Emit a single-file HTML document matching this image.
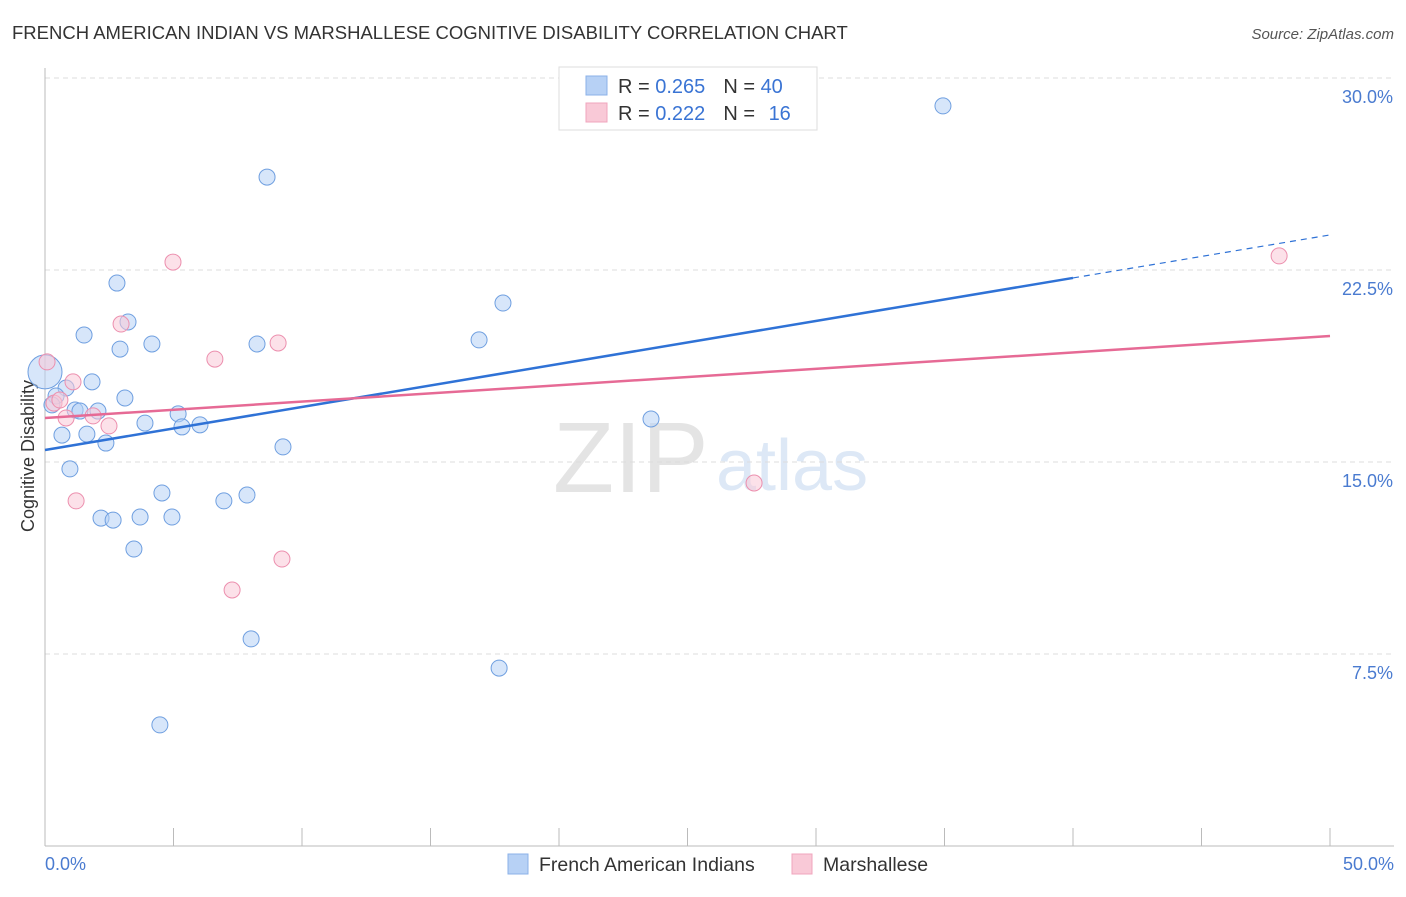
<!DOCTYPE html>
<html><head><meta charset="utf-8"><style>
body{margin:0;background:#fff;font-family:"Liberation Sans",sans-serif;}
svg text{font-family:"Liberation Sans",sans-serif;}
</style></head><body>
<svg width="1406" height="892" id="chart">
<text x="12" y="39" font-size="18.5" fill="#333">FRENCH AMERICAN INDIAN VS MARSHALLESE COGNITIVE DISABILITY CORRELATION CHART</text>
<text x="1394" y="39" font-size="15" fill="#555" font-style="italic" text-anchor="end">Source: ZipAtlas.com</text>
<text x="553" y="492" font-size="100" fill="#e4e4e4" font-family="Liberation Serif">ZIP</text>
<text x="716" y="490" font-size="72" fill="#dde8f6">atlas</text>
<text transform="translate(34,456) rotate(-90)" font-size="18" fill="#333" text-anchor="middle">Cognitive Disability</text>
<g id="grid"></g><g id="axes"></g><g id="marks"></g>
<g>
<rect x="559" y="67" width="258" height="63" fill="#fff" stroke="#ddd"/>
<rect x="586" y="76" width="21" height="19" fill="#b7d1f5" stroke="#8bb1e8"/>
<rect x="586" y="103" width="21" height="19" fill="#f9c9d7" stroke="#f0a5bd"/>
<text x="618" y="93" font-size="20" fill="#333">R = <tspan fill="#3a74d4">0.265</tspan><tspan dx="18">N = </tspan><tspan fill="#3a74d4">40</tspan></text>
<text x="618" y="120" font-size="20" fill="#333">R = <tspan fill="#3a74d4">0.222</tspan><tspan dx="18">N = </tspan><tspan fill="#3a74d4" dx="8">16</tspan></text>
</g>
<g>
<rect x="508" y="854" width="20" height="20" fill="#b7d1f5" stroke="#8bb1e8"/>
<text x="539" y="871" font-size="19.5" fill="#333">French American Indians</text>
<rect x="792" y="854" width="20" height="20" fill="#f9c9d7" stroke="#f0a5bd"/>
<text x="823" y="871" font-size="19.5" fill="#333">Marshallese</text>
</g>
</svg>
<script>
const yTicks=[7.5,15,22.5,30];
const yTickLabels=["7.5%","15.0%","22.5%","30.0%"];
const xEndLabels=["0.0%","50.0%"];
const blueX=[34.94,8.64,2.80,3.23,1.52,4.16,2.92,8.25,17.82,16.89,1.83,0.82,3.11,0.43,0.27,1.17,2.06,1.36,3.89,5.18,5.33,6.03,0.66,1.63,2.37,9.26,23.58,0.97,4.55,7.86,6.96,2.18,2.65,3.70,4.94,3.46,8.02,17.67,4.47,0.0];
const blueY=[28.91,26.13,21.99,20.47,19.96,19.61,19.41,19.61,21.21,19.77,18.13,17.89,17.50,17.58,17.23,17.03,16.99,16.99,16.52,16.88,16.37,16.45,16.05,16.09,15.74,15.59,16.68,14.73,13.79,13.71,13.48,12.81,12.73,12.85,12.85,11.60,8.09,6.95,4.73,18.52];
const pinkX=[48.02,4.98,2.96,9.07,6.61,1.09,0.35,0.82,1.87,2.49,1.21,27.59,9.22,7.28,0.08,0.58];
const pinkY=[23.05,22.81,20.39,19.65,19.02,18.13,17.30,16.72,16.80,16.41,13.48,14.18,11.21,10.00,18.91,17.42];
const blueLine=[15.47,23.87];
const pinkLine=[16.72,19.92];
const X=v=>45+v*25.7, Y=v=>846-v*25.6;
const NS="http://www.w3.org/2000/svg";
function mk(tag,attrs,parent){const e=document.createElementNS(NS,tag);for(const k in attrs)e.setAttribute(k,attrs[k]);document.getElementById(parent).appendChild(e);return e;}
yTicks.forEach((t,i)=>{
 const l=mk('line',{x1:45,x2:1394,y1:Y(t),y2:Y(t),stroke:'#ddd','stroke-dasharray':'5,4'},'grid');
 
 
 const tx=mk('text',{x:1393,y:Y(t)+25,'font-size':18,fill:'#4a7bd0','text-anchor':'end'},'grid');
 tx.textContent=yTickLabels[i];
 
 
});
const ax=mk('line',{x1:45,x2:1394,y1:846,y2:846,stroke:'#bbb'},'axes');


const ay=mk('line',{x1:45,x2:45,y1:68,y2:846,stroke:'#bbb'},'axes');


for(let i=0;i<=10;i++){const t=mk('line',{x1:X(i*5),x2:X(i*5),y1:828,y2:846,stroke:'#bbb'},'axes');
 
 }
[[0,'start',45],[50,'end',1394]].forEach((d,i)=>{const t=mk('text',{x:d[2],y:870,'font-size':18,fill:'#4a7bd0','text-anchor':d[1]},'axes');t.textContent=xEndLabels[i];
 
 });
function pts(xs,ys,fill,stroke,name){xs.forEach((x,i)=>{const big=(name==='blue-point'&&x===0);const c=mk('circle',{cx:X(x),cy:Y(ys[i]),r:big?17:8,fill:fill,'fill-opacity':0.55,stroke:stroke,'stroke-width':1},'marks');
 
 });}
pts(blueX,blueY,'#b7d1f5','#6f9fe0','blue-point');
pts(pinkX,pinkY,'#f9c9d7','#ec8fae','pink-point');
const b1=mk('line',{x1:X(0),y1:Y(blueLine[0]),x2:X(40),y2:Y(blueLine[0]+(blueLine[1]-blueLine[0])*0.8),stroke:'#2f72d6','stroke-width':2.5},'marks');


const b2=mk('line',{x1:X(40),y1:Y(blueLine[0]+(blueLine[1]-blueLine[0])*0.8),x2:X(50),y2:Y(blueLine[1]),stroke:'#2f72d6','stroke-width':1.2,'stroke-dasharray':'6,5'},'marks');


const p1=mk('line',{x1:X(0),y1:Y(pinkLine[0]),x2:X(50),y2:Y(pinkLine[1]),stroke:'#e66a95','stroke-width':2.5},'marks');


</script>
</body></html>
